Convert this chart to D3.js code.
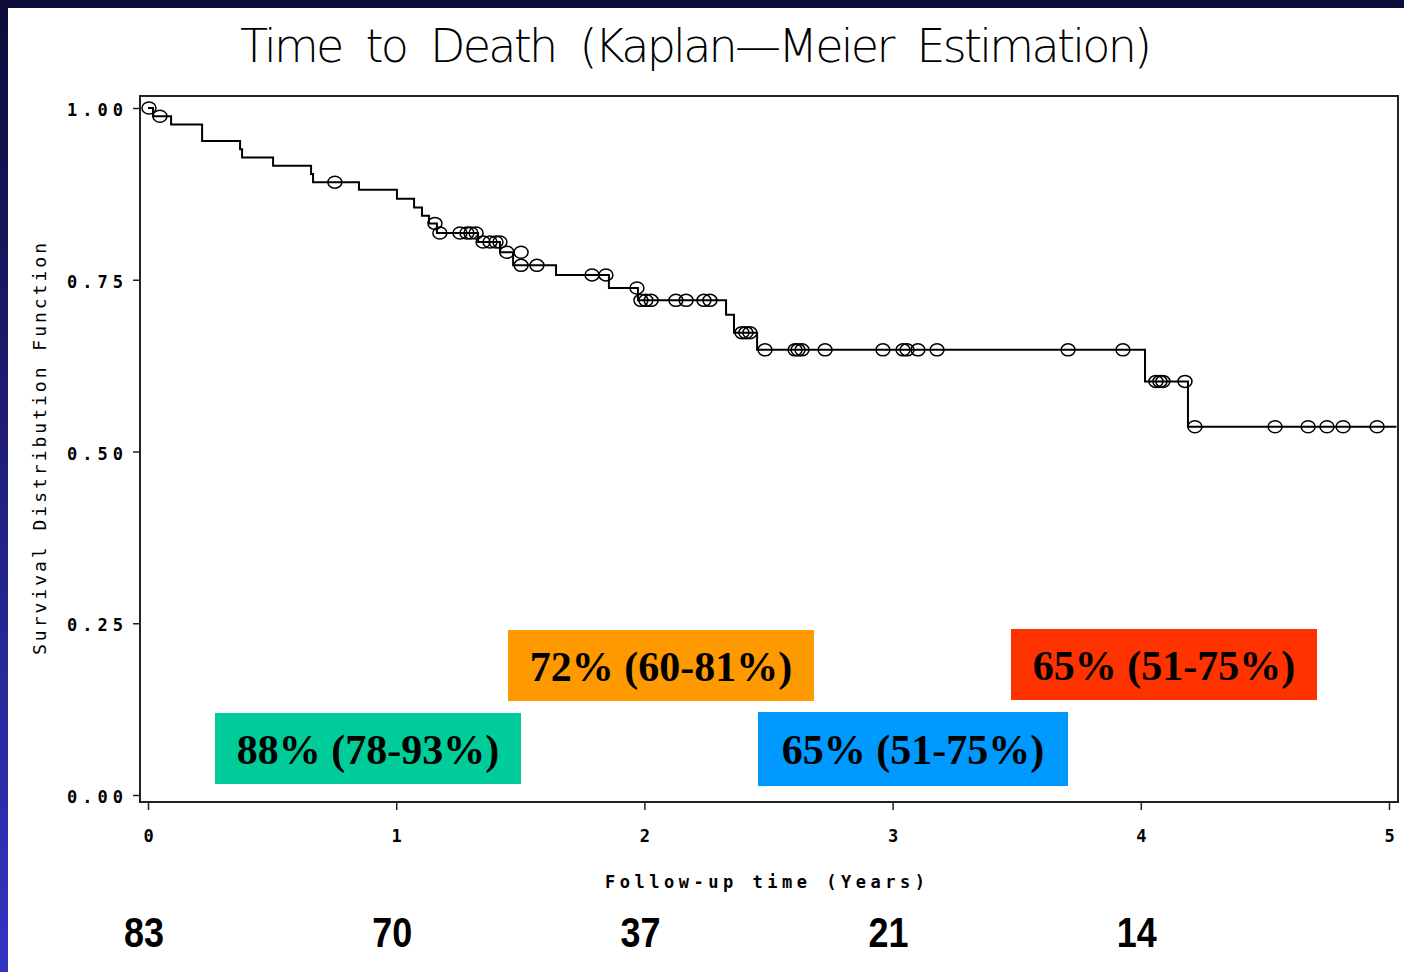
<!DOCTYPE html>
<html>
<head>
<meta charset="utf-8">
<script src="https://cdn.jsdelivr.net/npm/d3@7"></script>
<style>
  body { margin: 0; overflow: hidden; background: #fff; }
  svg { display: block; }
</style>
</head>
<body>
<svg id="chart" width="1404" height="972"></svg>
<script>
// Kaplan-Meier curve: times (years) where survival drops, and the value after the drop
const stepTimes = [0.020, 0.093, 0.218, 0.371, 0.379, 0.504, 0.657, 0.665, 0.850, 1.003,
  1.072, 1.104, 1.132, 1.164, 1.330, 1.418, 1.471, 1.644, 1.857, 1.974,
  2.329, 2.361, 2.454, 4.017, 4.190];
const stepSurv = [0.988, 0.976, 0.952, 0.940, 0.928, 0.916, 0.904, 0.892, 0.881, 0.868,
  0.855, 0.843, 0.832, 0.818, 0.805, 0.790, 0.771, 0.757, 0.738, 0.720,
  0.699, 0.673, 0.648, 0.602, 0.536];
const lastTime = 5.03;

// censored observations (circles)
const censorTimes = [0.004, 0.048, 0.753, 1.156, 1.176, 1.257, 1.285, 1.301, 1.322, 1.350,
  1.378, 1.402, 1.418, 1.446, 1.503, 1.503, 1.567, 1.789, 1.845, 1.970,
  1.986, 2.006, 2.027, 2.127, 2.168, 2.240, 2.264, 2.393, 2.409, 2.425,
  2.486, 2.607, 2.619, 2.635, 2.728, 2.961, 3.042, 3.058, 3.102, 3.179,
  3.707, 3.928, 4.061, 4.077, 4.089, 4.178, 4.218, 4.541, 4.674, 4.750,
  4.815, 4.952];
const censorSurv = [1.000, 0.988, 0.892, 0.832, 0.818, 0.818, 0.818, 0.818, 0.818, 0.805,
  0.805, 0.805, 0.805, 0.790, 0.790, 0.771, 0.771, 0.757, 0.757, 0.738,
  0.720, 0.720, 0.720, 0.720, 0.720, 0.720, 0.720, 0.673, 0.673, 0.673,
  0.648, 0.648, 0.648, 0.648, 0.648, 0.648, 0.648, 0.648, 0.648, 0.648,
  0.648, 0.648, 0.602, 0.602, 0.602, 0.602, 0.536, 0.536, 0.536, 0.536,
  0.536, 0.536];

const xTicks = [0, 1, 2, 3, 4, 5];
const yTicks = [0, 0.25, 0.5, 0.75, 1];

// number at risk under the axis
const atRiskTimes = [0, 1, 2, 3, 4];
const atRisk = [83, 70, 37, 21, 14];

// survival estimate boxes
const boxLabels = ["88% (78-93%)", "72% (60-81%)", "65% (51-75%)", "65% (51-75%)"];
const boxColors = ["#00cc99", "#ff9900", "#0099ff", "#ff3300"];

// layout (pixels)
const boxLayout = [
  { x: 215, y: 713, w: 306, h: 71 },
  { x: 508, y: 630, w: 306, h: 71 },
  { x: 758, y: 712, w: 310, h: 74 },
  { x: 1011, y: 629, w: 306, h: 71 }
];
const frame = { left: 140, top: 96, right: 1398, bottom: 802 };

const svg = d3.select("#chart");

// dark blue slide background with white panel
const defs = svg.append("defs");
const grad = defs.append("linearGradient")
  .attr("id", "bg").attr("x1", 0).attr("y1", 0).attr("x2", 0).attr("y2", 1);
grad.append("stop").attr("offset", "0%").attr("stop-color", "#0c0c3a");
grad.append("stop").attr("offset", "100%").attr("stop-color", "#3434c4");
svg.append("rect").attr("width", 1404).attr("height", 972).attr("fill", "url(#bg)");
svg.append("rect").attr("x", 8).attr("y", 8).attr("width", 1396).attr("height", 964).attr("fill", "#fff");

const x = d3.scaleLinear().domain([0, 5]).range([148, 1389]);
const y = d3.scaleLinear().domain([0, 1]).range([795, 108]);

// title
svg.append("text")
  .attr("x", 696).attr("y", 62)
  .attr("text-anchor", "middle")
  .style("font-family", "'DejaVu Sans', sans-serif")
  .style("font-weight", 200)
  .style("font-size", "46px")
  .style("word-spacing", "12px")
  .attr("textLength", 912)
  .text("Time to Death (Kaplan\u2014Meier Estimation)");

// frame
svg.append("rect")
  .attr("x", frame.left).attr("y", frame.top)
  .attr("width", frame.right - frame.left).attr("height", frame.bottom - frame.top)
  .attr("fill", "none").attr("stroke", "#222").attr("stroke-width", 2);

// y axis
const yAxis = svg.append("g")
  .attr("transform", `translate(${frame.left},0)`)
  .call(d3.axisLeft(y).tickValues(yTicks).tickSize(7).tickPadding(10).tickFormat(d3.format(".2f")));
yAxis.select(".domain").remove();
yAxis.selectAll("line").attr("stroke", "#222").attr("stroke-width", 1.5);
yAxis.selectAll("text")
  .attr("dy", "0.45em")
  .attr("textLength", 56)
  .style("font-family", "'DejaVu Sans Mono', monospace")
  .style("font-weight", "bold")
  .style("font-size", "17px")
  .attr("fill", "#000");

// x axis
const xAxis = svg.append("g")
  .attr("transform", `translate(0,${frame.bottom})`)
  .call(d3.axisBottom(x).tickValues(xTicks).tickSize(8).tickPadding(20).tickFormat(d3.format("d")));
xAxis.select(".domain").remove();
xAxis.selectAll("line").attr("stroke", "#222").attr("stroke-width", 1.5);
xAxis.selectAll("text")
  .style("font-family", "'DejaVu Sans Mono', monospace")
  .style("font-weight", "bold")
  .style("font-size", "17px")
  .attr("fill", "#000");

// axis titles
svg.append("text")
  .attr("x", 765).attr("y", 888)
  .attr("text-anchor", "middle")
  .attr("textLength", 320)
  .style("font-family", "'DejaVu Sans Mono', monospace")
  .style("font-weight", "bold")
  .style("font-size", "17px")
  .text("Follow-up time (Years)");

svg.append("text")
  .attr("transform", "translate(46,449) rotate(-90)")
  .attr("text-anchor", "middle")
  .attr("textLength", 412)
  .style("font-family", "'DejaVu Sans Mono', monospace")
  .style("font-weight", 200)
  .style("font-size", "18px")
  .text("Survival Distribution Function");

// survival curve
const pts = [[0, 1]];
stepTimes.forEach((t, i) => pts.push([t, stepSurv[i]]));
pts.push([lastTime, stepSurv[stepSurv.length - 1]]);

const line = d3.line()
  .x(d => x(d[0]))
  .y(d => y(d[1]))
  .curve(d3.curveStepAfter);

svg.append("path")
  .datum(pts)
  .attr("d", line)
  .attr("fill", "none")
  .attr("stroke", "#000")
  .attr("stroke-width", 2);

// censor marks
svg.append("g").selectAll("ellipse")
  .data(censorTimes.map((t, i) => [t, censorSurv[i]]))
  .enter()
  .append("ellipse")
  .attr("cx", d => x(d[0]))
  .attr("cy", d => y(d[1]))
  .attr("rx", 7)
  .attr("ry", 6)
  .attr("fill", "none")
  .attr("stroke", "#000")
  .attr("stroke-width", 1.5);

// estimate boxes
const boxes = svg.append("g").selectAll("g")
  .data(boxLabels.map((l, i) => ({ label: l, color: boxColors[i], pos: boxLayout[i] })))
  .enter()
  .append("g");
boxes.append("rect")
  .attr("x", d => d.pos.x).attr("y", d => d.pos.y)
  .attr("width", d => d.pos.w).attr("height", d => d.pos.h)
  .attr("fill", d => d.color);
boxes.append("text")
  .attr("x", d => d.pos.x + d.pos.w / 2)
  .attr("y", d => d.pos.y + d.pos.h / 2 + 15)
  .attr("text-anchor", "middle")
  .style("font-family", "'Liberation Serif', 'Times New Roman', serif")
  .style("font-weight", "bold")
  .style("font-size", "42px")
  .attr("fill", "#000")
  .text(d => d.label);

// number at risk
svg.append("g").selectAll("text")
  .data(atRisk.map((n, i) => [atRiskTimes[i], n]))
  .enter()
  .append("text")
  .attr("x", d => x(d[0]) - 4)
  .attr("y", 947)
  .attr("text-anchor", "middle")
  .attr("textLength", 40)
  .attr("lengthAdjust", "spacingAndGlyphs")
  .style("font-family", "'Liberation Sans Narrow', 'Arial Narrow', 'Liberation Sans', sans-serif")
  .style("font-weight", "bold")
  .style("font-size", "43px")
  .attr("fill", "#000")
  .text(d => d[1]);
</script>
</body>
</html>
